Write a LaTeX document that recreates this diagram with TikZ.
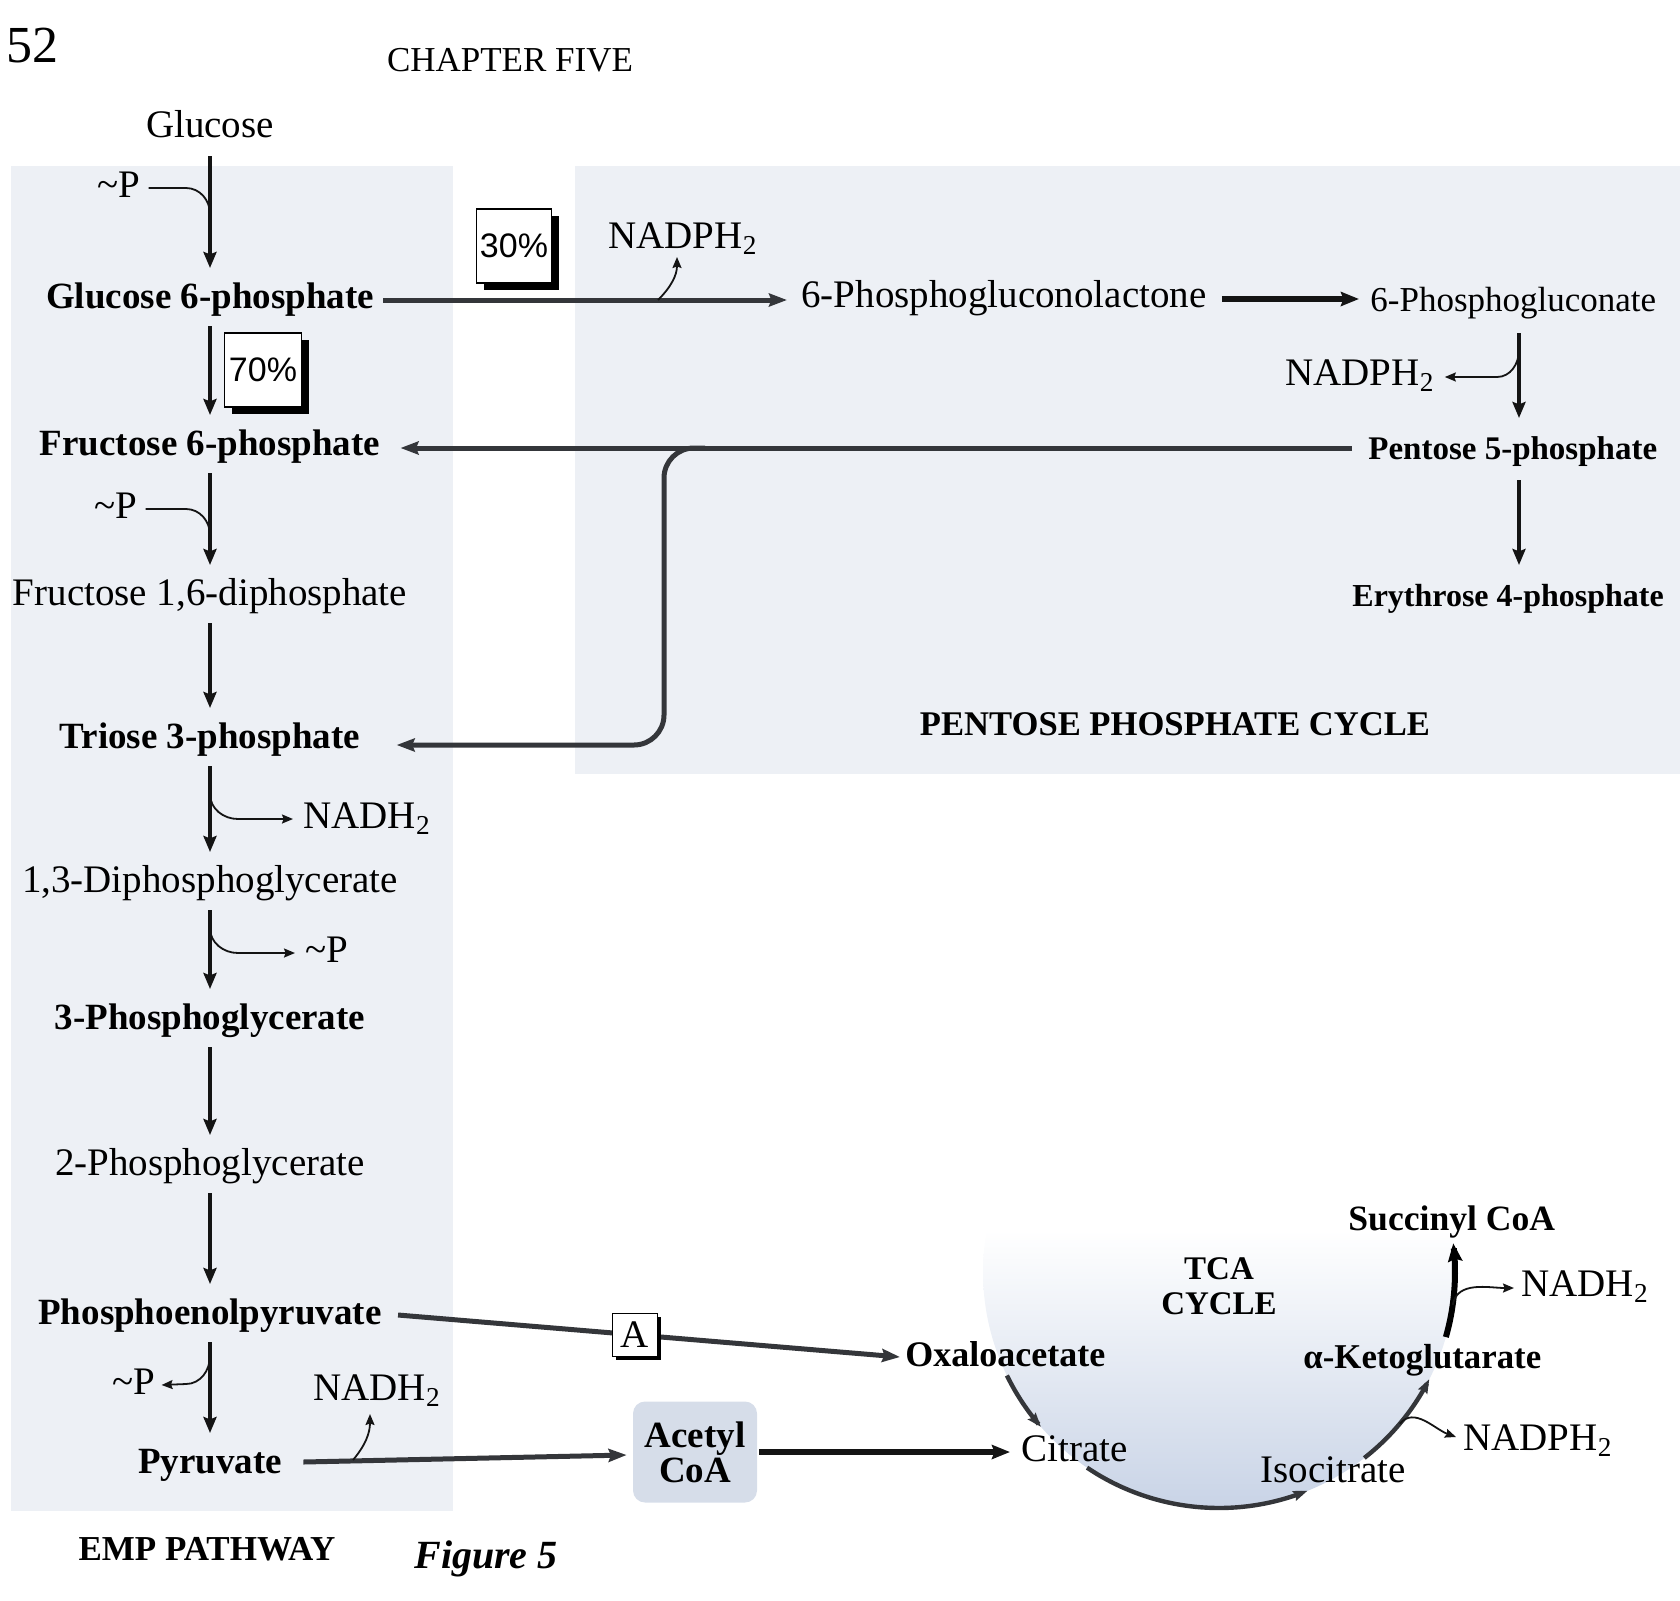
\documentclass[tikz,border=0pt]{standalone}
\usepackage{fontspec}
\setmainfont{Liberation Serif}
\newfontfamily\pctfont{Liberation Sans}
\usetikzlibrary{arrows.meta,calc,shadows}
\definecolor{ink}{RGB}{20,20,20}
\definecolor{gline}{RGB}{52,54,58}
\definecolor{panel}{RGB}{237,240,245}
\definecolor{tcab}{RGB}{200,211,230}
\definecolor{acoab}{RGB}{214,221,233}
\tikzset{
  reg/.style={font=\fontsize{19.5}{22}\selectfont, inner sep=0pt},
  bld/.style={font=\fontsize{18.5}{22}\selectfont\bfseries, inner sep=0pt},
  ttl/.style={font=\fontsize{17.5}{20}\selectfont\bfseries, inner sep=0pt},
  varr/.style={draw=ink, line width=2pt, -{Stealth[length=8pt,width=6.5pt,inset=1.2pt]}},
  harr/.style={draw=gline, line width=2.5pt, -{Stealth[length=9pt,width=6.5pt,inset=1.2pt]}},
  karr/.style={draw=ink, line width=3pt, -{Stealth[length=9pt,width=7pt,inset=1.2pt]}},
  sarr/.style={draw=ink, line width=0.9pt, -{Stealth[length=5.5pt,width=4.5pt,inset=0.8pt]}},
  sline/.style={draw=ink, line width=0.9pt},
  cyc/.style={draw=gline, line width=2.2pt, -{Stealth[length=7pt,width=5pt,inset=1pt]}},
  pct/.style={draw=black, line width=0.7pt, fill=white, inner sep=0pt,
    font=\pctfont\fontsize{17}{19}\selectfont,
    drop shadow={shadow xshift=3.5pt, shadow yshift=-3.5pt, fill=black, opacity=1}},
  abox/.style={draw=black, line width=0.7pt, fill=white, inner sep=0pt,
    minimum width=22.5pt, minimum height=21.5pt, font=\fontsize{19.5}{22}\selectfont,
    drop shadow={shadow xshift=2pt, shadow yshift=-2pt, fill=black, opacity=1}},
  cbox/.style={fill=acoab, rounded corners=6pt, minimum width=62pt, minimum height=50.5pt,
    inner sep=0pt, align=center, font=\fontsize{18.5}{17.5}\selectfont\bfseries}
}
\begin{document}
\begin{tikzpicture}[x=0.5pt,y=-0.5pt]
\useasboundingbox (0,0) rectangle (1680,1600);
% panels
\fill[panel] (11,166) rectangle (453,1511);
\fill[panel] (575,166) rectangle (1680,774);
\coordinate (tca) at (1219,1272);
\begin{scope}
  \clip (tca) circle[radius=236];
  \shade[top color=white, middle color=tcab!55, bottom color=tcab] (960,1230) rectangle (1480,1512);
\end{scope}

% header
\node[font=\fontsize{26}{28}\selectfont, inner sep=0pt, anchor=base west] (pnum) at (6,63) {52};
\node[font=\fontsize{17.5}{20}\selectfont, inner sep=0pt, anchor=base] (chap) at (510,72) {CHAPTER FIVE};

% EMP nodes
\node[reg, anchor=base] (glc) at (210,138) {Glucose};
\node[bld, anchor=base] (g6p) at (210,308) {Glucose 6-phosphate};
\node[bld, anchor=base] (f6p) at (210,455) {Fructose 6-phosphate};
\node[reg, anchor=base] (f16) at (210,605) {Fructose 1,6-diphosphate};
\node[bld, anchor=base] (t3p) at (210,748) {Triose 3-phosphate};
\node[reg, anchor=base] (dpg) at (210,892) {1,3-Diphosphoglycerate};
\node[bld, anchor=base] (pg3) at (210,1029) {3-Phosphoglycerate};
\node[reg, anchor=base] (pg2) at (210,1175) {2-Phosphoglycerate};
\node[bld, anchor=base] (pep) at (210,1324) {Phosphoenolpyruvate};
\node[bld, anchor=base] (pyr) at (210,1473) {Pyruvate};
\node[ttl, anchor=base] (emp) at (207,1560) {EMP PATHWAY};
\node[font=\fontsize{20}{22}\selectfont\bfseries\itshape, inner sep=0pt, anchor=base] (fig) at (486,1568) {Figure 5};

\node[reg, anchor=base west] (pA) at (97,197) {\textasciitilde P};
\node[reg, anchor=base west] (pB) at (94,518) {\textasciitilde P};
\node[reg, anchor=base west] (nadhA) at (303,828) {NADH\textsubscript{2}};
\node[reg, anchor=base west] (pC) at (305,962) {\textasciitilde P};
\node[reg, anchor=base west] (pD) at (112,1394) {\textasciitilde P};
\node[reg, anchor=base west] (nadhB) at (313,1400) {NADH\textsubscript{2}};

\node[pct, minimum width=37.5pt, minimum height=37pt] (p30) at (514,246) {30\%};
\node[pct, minimum width=38.5pt, minimum height=37pt] (p70) at (263,370) {70\%};

% pentose nodes
\node[reg, anchor=base west] (nadpA) at (608,248) {NADPH\textsubscript{2}};
\node[reg, anchor=base west] (lac) at (801,307) {6-Phosphogluconolactone};
\node[reg, anchor=base west, font=\fontsize{17.5}{20}\selectfont] (pg6) at (1370,311) {6-Phosphogluconate};
\node[reg, anchor=base west] (nadpB) at (1285,385) {NADPH\textsubscript{2}};
\node[bld, anchor=base west, font=\fontsize{16.5}{20}\selectfont\bfseries] (p5p) at (1368,459) {Pentose 5-phosphate};
\node[bld, anchor=base west, font=\fontsize{16}{20}\selectfont\bfseries] (ery) at (1352,606) {Erythrose 4-phosphate};
\node[ttl, anchor=base, font=\fontsize{17.3}{20}\selectfont\bfseries] (ppc) at (1175,735) {PENTOSE PHOSPHATE CYCLE};

% TCA nodes
\node[cbox] (acoa) at (695,1452) {Acetyl\\CoA};
\node[bld, anchor=base west, font=\fontsize{18}{20}\selectfont\bfseries] (oxa) at (905,1366) {Oxaloacetate};
\node[reg, anchor=base west] (cit) at (1021,1461) {Citrate};
\node[reg, anchor=base west] (iso) at (1260,1482) {Isocitrate};
\node[bld, anchor=base west, font=\fontsize{17.4}{20}\selectfont\bfseries] (akg) at (1303,1368) {α-Ketoglutarate};
\node[bld, anchor=base west, font=\fontsize{17.8}{20}\selectfont\bfseries] (suc) at (1348,1230) {Succinyl CoA};
\node[bld, align=center, font=\fontsize{16.5}{17.5}\selectfont\bfseries] (tcal) at (1219,1286) {TCA\\CYCLE};
\node[reg, anchor=base west] (nadhC) at (1521,1296) {NADH\textsubscript{2}};
\node[reg, anchor=base west] (nadpC) at (1463,1450) {NADPH\textsubscript{2}};

% EMP vertical arrows
\foreach \a/\b in {glc/g6p, g6p/f6p, f6p/f16, f16/t3p, t3p/dpg, dpg/pg3, pg3/pg2, pg2/pep, pep/pyr}
  \draw[varr] ($(\a.base)+(0,18)$) -- ($(\b.base)+(0,-40)$);

% side branches in EMP
\draw[sline] ($(pA.base east)+(8,-9)$) -- (186,188) to[out=0,in=90] (210,214);
\draw[sline] ($(pB.base east)+(8,-9)$) -- (186,509) to[out=0,in=90] (210,535);
\draw[sarr] (210,794) to[out=-90,in=180] (238,819) -- ($(nadhA.base west)+(-10,-9)$);
\draw[sarr] (210,928) to[out=-90,in=180] (238,953) -- ($(pC.base west)+(-10,-9)$);
\draw[sarr] (210,1356) to[out=-90,in=0] (186,1384) -- ($(pD.base east)+(6,-9)$);

% Glucose 6-phosphate -> lactone
\draw[harr] ($(g6p.base east)+(9,-8)$) -- ($(lac.base west)+(-14,-7)$);
\draw[sarr] (658,300) to[out=45,in=-90] (677,257);
\draw[karr] ($(lac.base east)+(15,-8)$) -- ($(pg6.base west)+(-11,-12)$);

% pentose column
\draw[varr] ($(pg6.base west)+(149,22)$) -- ($(p5p.base west)+(151,-41)$);
\draw[sarr] (1519,350) to[out=-90,in=0] (1497,377) -- ($(nadpB.base east)+(10,-8)$);
\draw[varr] ($(p5p.base west)+(151,21)$) -- ($(ery.base west)+(167,-41)$);

% return lines
\coordinate (split) at (705,448);
\draw[harr] ($(p5p.base west)+(-16,-11)$) -- ($(f6p.base east)+(20,-7)$);
\draw[harr, rounded corners=15pt] (split) -- (664,448) -- (664,745) -- ($(t3p.base east)+(36,-3)$);

% pyruvate / PEP to TCA
\draw[harr] ($(pep.base east)+(16,-9)$) -- node[abox, pos=0.472] (aa) {A} ($(oxa.base west)+(-5,-9)$);
\draw[harr] ($(pyr.base east)+(21,-11)$) -- ($(acoa.west)+(-6,3)$);
\draw[sarr] (353,1460) to[out=50,in=-90] (370,1414);
\draw[karr] ($(acoa.east)+(2,0)$) -- ($(cit.base west)+(-11,-9)$);

% TCA cycle arcs
\draw[cyc] plot[smooth, domain=154:139, samples=12] ({1219+236*cos(\x)},{1272+236*sin(\x)});
\draw[cyc] plot[smooth, domain=124:68, samples=20] ({1219+236*cos(\x)},{1272+236*sin(\x)});
\draw[cyc] plot[smooth, domain=52:27, samples=12] ({1219+236*cos(\x)},{1272+236*sin(\x)});
\draw[karr, draw=black] plot[smooth, domain=16:-7, samples=12] ({1219+236*cos(\x)},{1272+236*sin(\x)});
\draw[sarr] ($(tca)+(40:236)$) to[out=50,in=160] ($(nadpC.base west)+(-7,-13)$);
\draw[sarr] ($(tca)+(8:236)$) to[out=80,in=180] ($(nadhC.base west)+(-7,-8)$);
\end{tikzpicture}
\end{document}
